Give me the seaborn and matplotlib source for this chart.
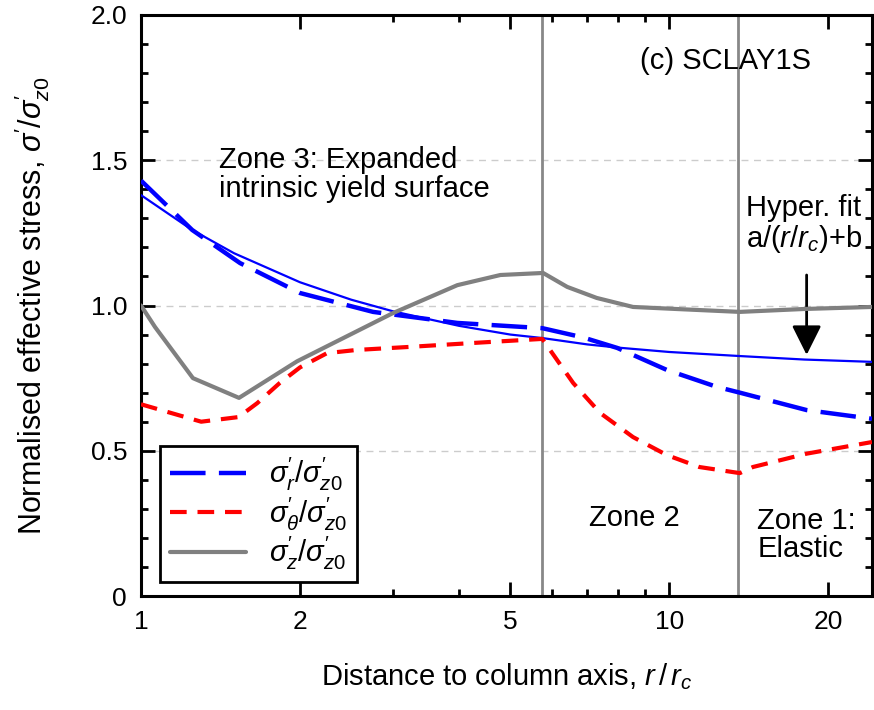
import numpy as np
import pandas as pd
import matplotlib
matplotlib.use("Agg")
import matplotlib.pyplot as plt
from matplotlib.ticker import FixedLocator, NullFormatter
import seaborn as sns

# Radial stress profile (normalised) along r/rc
r_radial = [1.0, 1.25, 1.54, 2.0, 2.75, 3.97, 5.75, 6.87, 7.97, 9.9, 12.3, 13.6, 18.2, 24.2]
s_radial = [1.43, 1.26, 1.146, 1.043, 0.978, 0.94, 0.922, 0.89, 0.854, 0.778, 0.72, 0.70, 0.64, 0.61]

# Hoop stress profile
r_hoop = [1.0, 1.3, 1.53, 1.66, 1.83, 2.0, 2.25, 2.56, 3.19, 4.25, 5.75, 6.58, 7.4, 8.54, 9.9, 11.4,
          13.6, 14.4, 18.2, 24.2]
s_hoop = [0.66, 0.60, 0.616, 0.664, 0.733, 0.787, 0.836, 0.847, 0.857, 0.871, 0.885, 0.733, 0.63,
          0.547, 0.485, 0.444, 0.423, 0.444, 0.49, 0.53]

# Vertical stress profile
r_vert = [1.0, 1.063, 1.254, 1.533, 1.975, 3.0, 3.97, 4.79, 5.77, 6.41, 7.29, 8.54, 10.3, 13.6, 18.0, 24.2]
s_vert = [1.0, 0.926, 0.75, 0.682, 0.808, 0.974, 1.07, 1.105, 1.112, 1.064, 1.026, 0.995, 0.988,
          0.978, 0.988, 0.995]

# Hyperbolic fit a/(r/rc)+b to the radial stress
r_fit = [1.0, 1.25, 1.5, 2.0, 2.5, 3.0, 4.0, 5.0, 5.75, 7.0, 8.0, 10.0, 13.6, 18.0, 24.2]
s_fit = [1.38, 1.26, 1.18, 1.08, 1.02, 0.98, 0.93, 0.90, 0.888, 0.866, 0.855, 0.84, 0.826, 0.814, 0.806]

# Zone boundaries
zone_bounds = [5.75, 13.5]

x_major = [1, 2, 5, 10, 20]
x_minor = [3, 4, 6, 7, 8, 9]
y_major = [0, 0.5, 1.0, 1.5, 2.0]
y_major_labels = ["0", "0.5", "1.0", "1.5", "2.0"]

sns.set_theme(style="ticks")
plt.rcParams["font.family"] = ["Liberation Sans", "DejaVu Sans"]
plt.rcParams["mathtext.fontset"] = "custom"
plt.rcParams["mathtext.rm"] = "Liberation Sans"
plt.rcParams["mathtext.it"] = "Liberation Sans:italic"
plt.rcParams["mathtext.bf"] = "Liberation Sans:bold"
plt.rcParams["text.color"] = "black"
plt.rcParams["axes.labelcolor"] = "black"

fig = plt.figure(figsize=(8.74, 7.10), dpi=100)
ax = fig.add_axes([141 / 874, 114 / 710, 731 / 874, 581 / 710])

df_r = pd.DataFrame({"r": r_radial, "s": s_radial})
df_t = pd.DataFrame({"r": r_hoop, "s": s_hoop})
df_z = pd.DataFrame({"r": r_vert, "s": s_vert})
df_f = pd.DataFrame({"r": r_fit, "s": s_fit})

for yv in [0.5, 1.0, 1.5]:
    ax.axhline(yv, color="#cccccc", lw=1.0, ls=(0, (5, 4)), zorder=0.5)
for xb in zone_bounds:
    ax.axvline(xb, color="#888888", lw=2.0, zorder=1.5)

sns.lineplot(data=df_f, x="r", y="s", ax=ax, color="#0000ff", lw=1.6, sort=False,
             estimator=None, zorder=3)
sns.lineplot(data=df_r, x="r", y="s", ax=ax, color="#0000ff", lw=3.2, sort=False,
             estimator=None, zorder=4,
             label=r"$\sigma^{\prime}_{r}/\sigma^{\prime}_{z0}$")
sns.lineplot(data=df_t, x="r", y="s", ax=ax, color="#ff0000", lw=3.0, sort=False,
             estimator=None, zorder=4,
             label=r"$\sigma^{\prime}_{\theta}/\sigma^{\prime}_{z0}$")
sns.lineplot(data=df_z, x="r", y="s", ax=ax, color="#808080", lw=3.0, sort=False,
             estimator=None, zorder=4,
             label=r"$\sigma^{\prime}_{z}/\sigma^{\prime}_{z0}$")

data_lines = ax.get_lines()[-4:]
data_lines[1].set_dashes([8, 3])
data_lines[2].set_dashes([4, 2.6])

ax.set_xscale("log")
ax.set_xlim(1, 24.2)
ax.set_ylim(0, 2.0)
ax.xaxis.set_major_locator(FixedLocator(x_major))
ax.xaxis.set_minor_locator(FixedLocator(x_minor))
ax.xaxis.set_minor_formatter(NullFormatter())
ax.set_xticklabels([str(v) for v in x_major])
ax.set_yticks(y_major)
ax.set_yticklabels(y_major_labels)
ax.yaxis.set_minor_locator(FixedLocator(np.arange(0.1, 2.0, 0.1)))

ax.tick_params(which="both", direction="in", top=True, right=True, colors="black",
               labelsize=19, width=2)
ax.tick_params(which="major", length=10, pad=10)
ax.tick_params(which="minor", length=5)
for sp in ax.spines.values():
    sp.set_linewidth(2.2)
    sp.set_color("black")

ax.set_xlabel(r"Distance to column axis, $r\,/\,r_c$", fontsize=21, labelpad=20)
ax.set_ylabel(r"Normalised effective stress, $\sigma^{\prime}/\sigma^{\prime}_{z0}$",
              fontsize=22, labelpad=28)

ax.text(8.81, 1.84, "(c) SCLAY1S", fontsize=21, ha="left", va="center")
ax.text(1.405, 1.45, "Zone 3: Expanded\nintrinsic yield surface", fontsize=21,
        ha="left", va="center", linespacing=1.05)
ax.text(14.0, 1.28, "Hyper. fit\n" + r"a/($\it{r}$/$\it{r_c}$)+b", fontsize=21,
        ha="left", va="center", linespacing=1.05)
ax.text(8.6, 0.27, "Zone 2", fontsize=21, ha="center", va="center")
ax.text(14.67, 0.21, "Zone 1:\nElastic", fontsize=21, ha="left", va="center",
        linespacing=1.0)

ax.annotate("", xy=(18.2, 0.83), xytext=(18.2, 1.105),
            arrowprops=dict(arrowstyle="-|>,head_length=0.6,head_width=0.3",
                            color="black", lw=2, mutation_scale=30, shrinkA=0, shrinkB=0))

leg = ax.legend(loc="lower left", bbox_to_anchor=(0.026, 0.024), borderaxespad=0,
                fontsize=21, handlelength=2.6, handletextpad=0.8, fancybox=False,
                framealpha=1, edgecolor="black", labelspacing=0.07, borderpad=0.35)
leg.get_frame().set_linewidth(2)

fig.savefig("out.png", dpi=100)
